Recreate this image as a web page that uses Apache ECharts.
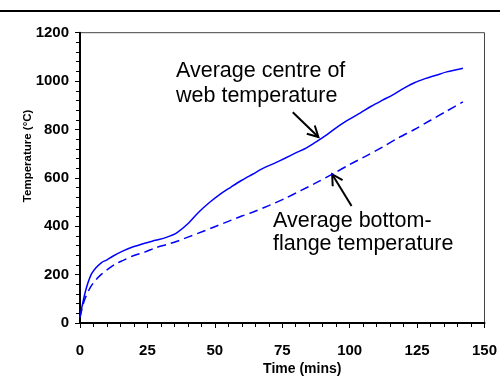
<!DOCTYPE html>
<html><head><meta charset="utf-8">
<script src="https://cdn.jsdelivr.net/npm/echarts@6/dist/echarts.min.js"></script>
<style>html,body{margin:0;padding:0;background:#fff}#c{width:500px;height:381px}</style>
</head><body><div id="c"></div>
<script>
const webTime = [0,2,4,6,8,10,12,16,20,24,28,32,36,40,44,48,52,56,60,64,68,72,76,80,84,88,92,96,100,104,108,112,116,120,124,128,132,136,140,142];
const webTemp = [25,130,197,229,250,261,275,298,316,330,342,354,374,410,458,498,533,562,590,615,640,660,681,703,724,752,782,815,843,869,896,920,943,970,993,1010,1024,1038,1048,1053];
const flangeTime = [0,1,2,4,6,8,10,13,16,20,24,28,32,36,40,45,50,55,60,64,70,76,82,88,94,100,106,112,118,124,130,136,142];
const flangeTemp = [22,70,105,150,180,202,220,243,259,279,293,311,324,338,355,376,398,420,442,458,485,515,548,582,618,655,690,726,765,800,838,876,914];
const xMin = 0, xMax = 150, xStep = 25;
const yMin = 0, yMax = 1200, yStep = 200;
const webLabel = 'Average centre of\nweb temperature';
const flangeLabel = 'Average bottom-\nflange temperature';
const webArrow = {tail:[78.9,871], tip:[88.4,769]};
const flangeArrow = {tail:[100.7,484], tip:[93.5,615]};

const FF = '"Liberation Sans", Arial, sans-serif';
const pair = (xs, ys) => xs.map((x,i)=>[x, ys[i]]);

const chart = echarts.init(document.getElementById('c'));
const axisCommon = {
  axisLine:{show:true, lineStyle:{color:'#000', width:2}},
  axisTick:{show:true, inside:false, length:5, lineStyle:{color:'#000', width:1}},
  minorTick:{show:true, splitNumber:5, length:4, lineStyle:{color:'#000', width:1}},
  splitLine:{show:false},
  nameMoveOverlap:false,
  axisLabel:{color:'#000', fontFamily:FF, fontWeight:'bold', fontSize:15, formatter:v=>String(v)},
  nameTextStyle:{color:'#000', fontFamily:FF, fontWeight:'bold', fontSize:14}
};
chart.setOption({
  animation:false,
  backgroundColor:'#fff',
  grid:{left:80, right:8, top:32.7, bottom:54.3, show:true, borderColor:'#444', borderWidth:1, containLabel:false},
  xAxis:Object.assign({}, axisCommon, {
    type:'value', min:xMin, max:xMax, interval:xStep,
    name:'Time (mins)', nameLocation:'middle', nameGap:39,
    axisLabel:Object.assign({}, axisCommon.axisLabel, {margin:20}),
    nameTextStyle:Object.assign({}, axisCommon.nameTextStyle, {padding:[0,0,0,40]})
  }),
  yAxis:Object.assign({}, axisCommon, {
    type:'value', min:yMin, max:yMax, interval:yStep,
    name:'Temperature (°C)', nameLocation:'middle', nameGap:46,
    axisLabel:Object.assign({}, axisCommon.axisLabel, {margin:11}),
    nameTextStyle:Object.assign({}, axisCommon.nameTextStyle, {fontSize:11.5, padding:[0,0,0,44]})
  }),
  series:[
    {type:'line', name:'web', data:pair(webTime, webTemp), smooth:0.3, showSymbol:false, symbol:'none',
     lineStyle:{color:'#0000ff', width:1.5}},
    {type:'line', name:'flange', data:pair(flangeTime, flangeTemp), smooth:0.3, showSymbol:false, symbol:'none',
     lineStyle:{color:'#0000ff', width:1.5, type:[9,5]}}
  ]
});

function arrow(a0, b0) {
  const a = chart.convertToPixel({gridIndex:0}, a0);
  const b = chart.convertToPixel({gridIndex:0}, b0);
  const ang = Math.atan2(b[1]-a[1], b[0]-a[0]);
  const L = 12, w = 0.5;
  const w1 = [b[0]-L*Math.cos(ang-w), b[1]-L*Math.sin(ang-w)];
  const w2 = [b[0]-L*Math.cos(ang+w), b[1]-L*Math.sin(ang+w)];
  return [
    {type:'line', shape:{x1:a[0], y1:a[1], x2:b[0], y2:b[1]}, style:{stroke:'#000', lineWidth:2}},
    {type:'polyline', shape:{points:[w1, b, w2]}, style:{stroke:'#000', lineWidth:2, fill:null}}
  ];
}
chart.setOption({
  graphic:[
    {type:'line', shape:{x1:0, y1:11, x2:500, y2:11}, style:{stroke:'#000', lineWidth:2}},
    {type:'text', left:176, top:59, style:{text:webLabel, font:'21.5px '+FF, fill:'#000', lineHeight:24.5}},
    {type:'text', left:273, top:209, style:{text:flangeLabel, font:'21.5px '+FF, fill:'#000', lineHeight:23.5}}
  ].concat(arrow(webArrow.tail, webArrow.tip), arrow(flangeArrow.tail, flangeArrow.tip))
});
</script>
</body></html>
